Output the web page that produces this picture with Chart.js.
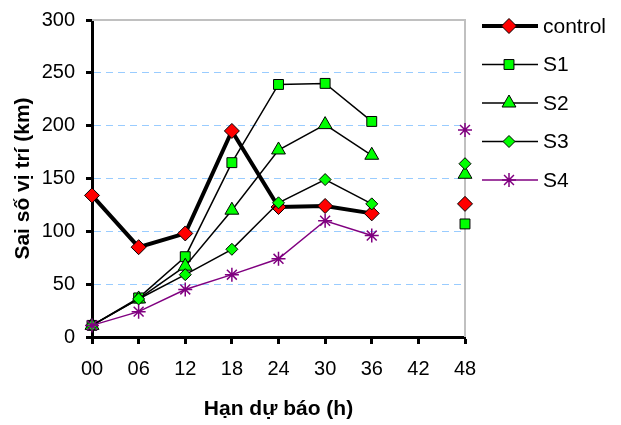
<!DOCTYPE html>
<html>
<head>
<meta charset="utf-8">
<script src="https://cdn.jsdelivr.net/npm/chart.js@4"></script>
<style>
  html, body { margin: 0; padding: 0; background: #fff; }
  #wrap { width: 621px; height: 425px; }
</style>
</head>
<body>
<div id="wrap"><canvas id="chart" width="621" height="425"></canvas></div>
<script>
const hours = ['00', '06', '12', '18', '24', '30', '36', '42', '48'];
const control = [134, 85, 98, 195, 123, 124, 117, null, 126];
const s1 = [11, 37, 76, 165, 239, 240, 204, null, 107];
const s2 = [11, 36, 67, 120, 177, 201, 172, null, 154];
const s3 = [11, 36, 59, 83, 127, 149, 126, null, 164];
const s4 = [11, 24, 45, 59, 74, 110, 96, null, 196];

const FONT = "'Liberation Sans', Arial, sans-serif";

// gray frame line on top and right of plot area
const frameLines = {
    id: 'frameLines',
    beforeDatasetsDraw(chart) {
        const { ctx, chartArea: a } = chart;
        ctx.save();
        ctx.strokeStyle = '#c0c0c0';
        ctx.lineWidth = 2;
        ctx.beginPath();
        ctx.moveTo(a.left, a.top);
        ctx.lineTo(a.right, a.top);
        ctx.lineTo(a.right, a.bottom);
        ctx.stroke();
        ctx.restore();
    }
};

// legend with line + marker, like the spreadsheet one
const sideLegend = {
    id: 'sideLegend',
    afterDraw(chart) {
        const ctx = chart.ctx;
        ctx.save();
        chart.data.datasets.forEach((ds, i) => {
            const y = 26 + i * 38.5;
            ctx.strokeStyle = ds.borderColor;
            ctx.lineWidth = ds.borderWidth;
            ctx.beginPath();
            ctx.moveTo(482, y);
            ctx.lineTo(538, y);
            ctx.stroke();
            ctx.fillStyle = ds.pointBackgroundColor;
            ctx.strokeStyle = ds.pointBorderColor;
            ctx.lineWidth = ds.pointBorderWidth;
            Chart.helpers.drawPoint(ctx, {
                pointStyle: ds.pointStyle,
                radius: ds.pointRadius,
                rotation: 0,
                borderWidth: ds.pointBorderWidth
            }, 509, y);
            ctx.fillStyle = '#000';
            ctx.font = '21px ' + FONT;
            ctx.textBaseline = 'middle';
            ctx.fillText(ds.label, 543, y + 1);
        });
        ctx.restore();
    }
};

const series = (label, data, color, width, style, radius, fill, order) => ({
    label,
    data,
    borderColor: color,
    borderWidth: width,
    pointStyle: style,
    pointRadius: radius,
    pointHoverRadius: radius,
    pointBackgroundColor: fill,
    pointBorderColor: style === 'star' ? color : '#000',
    pointBorderWidth: style === 'star' ? 1.5 : 1,
    spanGaps: false,
    tension: 0,
    clip: false,
    order
});

new Chart(document.getElementById('chart'), {
    type: 'line',
    data: {
        labels: hours,
        datasets: [
            series('control', control, '#000', 4, 'rectRot', 7.5, '#ff0000', 5),
            series('S1', s1, '#000', 1.5, 'rect', 7, '#00ff00', 4),
            series('S2', s2, '#000', 1.5, 'triangle', 8, '#00ff00', 3),
            series('S3', s3, '#000', 1.5, 'rectRot', 6, '#00ff00', 2),
            series('S4', s4, '#800080', 1.5, 'star', 7, '#800080', 1)
        ]
    },
    options: {
        responsive: false,
        animation: false,
        layout: { padding: { left: 0, top: 20, right: 156, bottom: 0 } },
        plugins: {
            legend: { display: false },
            tooltip: { enabled: false }
        },
        scales: {
            x: {
                offset: false,
                afterFit: s => { s.height = 88; },
                grid: {
                    drawOnChartArea: false,
                    drawTicks: true,
                    tickLength: 7,
                    tickColor: '#000',
                    tickWidth: 3
                },
                border: { display: true, color: '#000', width: 3 },
                ticks: {
                    color: '#000',
                    font: { family: FONT, size: 20 },
                    padding: 13,
                    autoSkip: false,
                    maxRotation: 0
                },
                title: {
                    display: true,
                    text: 'Hạn dự báo (h)',
                    color: '#000',
                    font: { family: FONT, size: 21, weight: 'bold' },
                    padding: { bottom: 3 }
                }
            },
            y: {
                min: 0,
                max: 300,
                // fixed axis width, and don't let the label padding push the plot down
                afterFit: s => { s.width = 92; s.paddingTop = 0; },
                grid: {
                    color: c => (c.tick && (c.tick.value === 0 || c.tick.value === 300)) ? 'rgba(0,0,0,0)' : '#99ccff',
                    lineWidth: 1,
                    drawTicks: true,
                    tickLength: 6,
                    tickColor: '#000',
                    tickWidth: 3,
                    tickBorderDash: []
                },
                border: { display: true, color: '#000', width: 3, dash: [7, 5] },
                ticks: {
                    stepSize: 50,
                    color: '#000',
                    font: { family: FONT, size: 20 },
                    padding: 11
                },
                title: {
                    display: true,
                    text: 'Sai số vị trí (km)',
                    color: '#000',
                    font: { family: FONT, size: 21, weight: 'bold' },
                    padding: { top: 11 }
                }
            }
        }
    },
    plugins: [frameLines, sideLegend]
});
</script>
</body>
</html>
